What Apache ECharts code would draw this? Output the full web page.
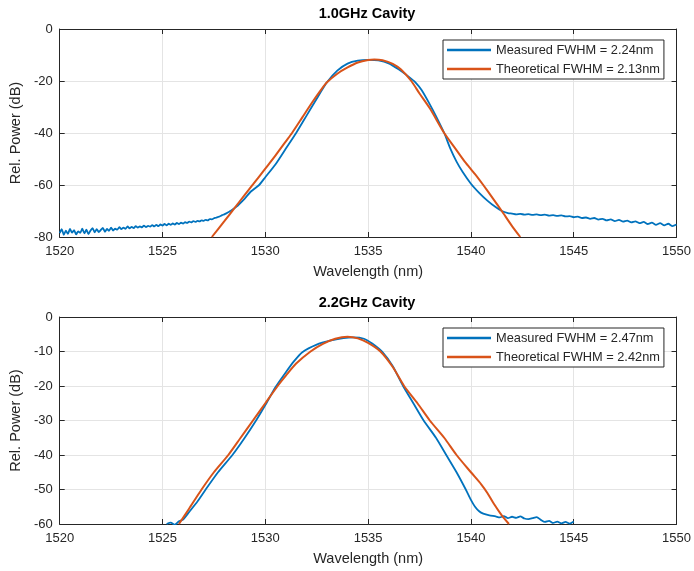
<!DOCTYPE html>
<html>
<head>
<meta charset="utf-8">
<script src="https://cdn.jsdelivr.net/npm/echarts@6/dist/echarts.min.js"></script>
<style>html,body{margin:0;padding:0;background:#fff;}#c{width:694px;height:571px;}</style>
</head>
<body>
<div id="c"></div>
<script>
// ---------- data (wavelength nm, relative power dB) ----------
const xTicks = [1520, 1525, 1530, 1535, 1540, 1545, 1550];
const yTicksTop = [-80, -60, -40, -20, 0];
const yTicksBottom = [-60, -50, -40, -30, -20, -10, 0];

const measured1 = [
[1520.0,-78.5],[1520.1,-77.0],[1520.2,-79.2],[1520.3,-77.6],[1520.4,-78.8],[1520.5,-76.9],[1520.6,-78.3],[1520.7,-77.4],[1520.8,-79.0],[1520.9,-77.8],
[1521.0,-78.4],[1521.1,-76.8],[1521.2,-78.6],[1521.3,-77.2],[1521.4,-78.9],[1521.5,-77.5],[1521.6,-76.6],[1521.7,-78.2],[1521.8,-77.0],[1521.9,-78.1],
[1522.0,-77.3],[1522.1,-76.5],[1522.2,-78.0],[1522.3,-76.9],[1522.4,-77.6],[1522.5,-76.4],[1522.6,-77.5],[1522.7,-76.8],[1522.8,-77.2],[1522.9,-76.2],
[1523.0,-77.0],[1523.1,-76.4],[1523.2,-76.9],[1523.3,-75.9],[1523.4,-76.7],[1523.5,-76.1],[1523.6,-76.6],[1523.7,-75.8],[1523.8,-76.4],[1523.9,-75.9],
[1524.0,-76.3],[1524.1,-75.6],[1524.2,-76.2],[1524.3,-75.7],[1524.4,-76.0],[1524.5,-75.4],[1524.6,-75.9],[1524.7,-75.3],[1524.8,-75.8],[1524.9,-75.2],
[1525.0,-75.6],[1525.1,-75.0],[1525.2,-75.5],[1525.3,-74.9],[1525.4,-75.3],[1525.5,-74.8],[1525.6,-75.2],[1525.7,-74.6],[1525.8,-75.0],[1525.9,-74.5],
[1526.0,-74.8],[1526.1,-74.3],[1526.2,-74.6],[1526.3,-74.1],[1526.4,-74.4],[1526.5,-73.9],[1526.6,-74.2],[1526.7,-73.8],[1526.8,-74.0],[1526.9,-73.6],
[1527.0,-73.8],[1527.1,-73.4],[1527.2,-73.6],[1527.3,-73.1],[1527.4,-73.2],[1527.5,-72.8],[1527.6,-72.6],[1527.7,-72.3],[1527.8,-72.0],[1527.9,-71.6],
[1528.0,-71.3],[1528.1,-70.9],[1528.2,-70.5],[1528.3,-70.0],[1528.4,-69.5],[1528.5,-68.9],[1528.6,-68.3],[1528.7,-67.6],
[1529.0,-65.2],[1529.3,-62.5],[1529.7,-60.0],[1530.0,-57.0],[1530.5,-52.0],[1531.0,-46.0],[1531.5,-40.0],[1532.0,-33.4],[1532.5,-26.8],
[1533.0,-20.5],[1533.5,-16.0],[1534.0,-13.3],[1534.5,-12.2],[1535.0,-11.9],[1535.5,-12.1],[1536.0,-13.2],[1536.5,-15.6],[1537.0,-18.5],
[1537.3,-20.5],[1537.6,-23.5],[1538.0,-29.0],[1538.3,-33.5],[1538.7,-40.0],[1539.0,-46.0],[1539.3,-51.0],[1539.6,-55.0],[1540.0,-59.5],
[1540.4,-63.0],[1540.8,-66.0],[1541.2,-68.5],[1541.5,-70.0],[1541.8,-70.8],
[1542.0,-71.0],[1542.2,-71.3],[1542.4,-71.1],[1542.6,-71.4],[1542.8,-71.2],[1543.0,-71.5],[1543.2,-71.3],[1543.4,-71.6],[1543.6,-71.4],[1543.8,-71.8],
[1544.0,-71.6],[1544.2,-71.9],[1544.4,-71.7],[1544.6,-72.1],[1544.8,-72.0],[1545.0,-72.4],[1545.2,-72.2],[1545.4,-72.7],[1545.6,-72.5],[1545.8,-73.0],
[1546.0,-72.7],[1546.2,-73.3],[1546.4,-73.0],[1546.6,-73.6],[1546.8,-73.2],[1547.0,-73.9],[1547.2,-73.4],[1547.4,-74.1],[1547.6,-73.7],[1547.8,-74.4],
[1548.0,-74.0],[1548.2,-74.7],[1548.4,-74.2],[1548.6,-75.0],[1548.8,-74.5],[1549.0,-75.3],[1549.2,-74.7],[1549.4,-75.5],[1549.6,-74.9],[1549.8,-75.8],[1550.0,-75.2]
];

const theory1 = [
[1527.4,-80],[1528.0,-74],[1528.5,-68.9],[1529.0,-63.8],[1529.4,-59.8],[1530.0,-53.7],[1530.5,-48.6],[1531.0,-43.2],[1531.3,-40],
[1531.8,-34],[1532.3,-28],[1532.7,-23.5],[1533.0,-20.5],[1533.5,-17.2],[1534.0,-14.8],[1534.5,-12.9],[1535.0,-11.9],[1535.3,-11.7],
[1535.7,-12.0],[1536.2,-13.4],[1536.6,-15.6],[1537.1,-20],[1537.5,-24.8],[1538.0,-30.5],[1538.7,-40],[1539.2,-45.5],[1539.7,-51],
[1540.2,-55.8],[1540.6,-60],[1541.1,-65.5],[1541.5,-70],[1542.0,-75.8],[1542.4,-80]
];

const measured2 = [
[1525.2,-60.0],[1525.4,-59.6],[1525.6,-60.2],[1525.8,-59.2],[1526.0,-58.7],[1526.3,-56.5],[1526.7,-53.5],[1527.1,-50.0],[1527.7,-45.0],
[1528.4,-40.0],[1529.0,-35.0],[1529.55,-30.0],[1530.0,-25.5],[1530.5,-20.3],[1531.0,-16.0],[1531.4,-12.8],[1531.8,-10.2],[1532.5,-8.0],
[1533.2,-6.8],[1533.8,-6.1],[1534.3,-5.9],[1534.8,-6.3],[1535.2,-7.7],[1535.7,-10.2],[1536.2,-14.3],[1536.7,-20.0],[1537.2,-25.0],
[1537.7,-30.0],[1538.3,-35.0],[1538.8,-40.0],[1539.3,-45.0],[1539.75,-50.0],[1540.0,-53.0],[1540.2,-55.0],[1540.4,-56.3],[1540.6,-57.0],
[1540.9,-57.5],[1541.2,-57.8],[1541.4,-58.1],[1541.6,-57.7],[1541.8,-58.3],[1542.0,-57.9],[1542.2,-58.2],[1542.4,-57.8],[1542.6,-58.4],
[1542.8,-58.6],[1543.0,-58.3],[1543.2,-58.0],[1543.4,-58.8],[1543.6,-59.4],[1543.8,-59.1],[1544.0,-59.7],[1544.2,-59.3],[1544.4,-59.8],
[1544.6,-59.4],[1544.8,-59.9],[1545.0,-59.3]
];

const theory2 = [
[1525.8,-60],[1526.3,-55.5],[1526.9,-50],[1527.5,-45],[1528.2,-40],[1528.8,-35],[1529.4,-30],[1530.0,-25],[1530.6,-20],[1531.0,-17],
[1531.5,-13.5],[1532.2,-10],[1532.8,-7.8],[1533.4,-6.3],[1534.0,-5.7],[1534.5,-6.2],[1535.0,-7.5],[1535.6,-10],[1536.2,-14.5],
[1536.75,-20],[1537.4,-25],[1538.0,-30],[1538.7,-35],[1539.3,-40],[1540.0,-45],[1540.5,-48.5],[1540.8,-51],[1541.1,-54],[1541.5,-57.5],[1541.85,-60]
];

const titles = ['1.0GHz Cavity', '2.2GHz Cavity'];
const names1 = ['Measured FWHM = 2.24nm', 'Theoretical FWHM = 2.13nm'];
const names2 = ['Measured FWHM = 2.47nm', 'Theoretical FWHM = 2.42nm'];

// ---------- styling ----------
const FONT = 'Liberation Sans, Arial, Helvetica, sans-serif';
const AX = '#262626';
const BLUE = '#0072BD';
const ORANGE = '#D95319';
const GRIDC = '#e4e4e4';

function mainX(gi) {
  return {
    gridIndex: gi, type: 'value', position: 'bottom',
    min: xTicks[0], max: xTicks[xTicks.length - 1], interval: 5,
    axisLine: { show: true, onZero: false, lineStyle: { color: AX, width: 1 } },
    axisTick: { show: true, inside: true, length: 5, lineStyle: { color: AX } },
    axisLabel: { margin: 8, fontSize: 13, color: AX, fontFamily: FONT, formatter: v => String(v) },
    splitLine: { show: true, lineStyle: { color: GRIDC, width: 1 } },
    name: 'Wavelength (nm)', nameLocation: 'middle', nameGap: 27,
    nameTextStyle: { fontSize: 14.5, color: AX, fontFamily: FONT }
  };
}
function topX(gi) {
  return {
    gridIndex: gi, type: 'value', position: 'top',
    min: xTicks[0], max: xTicks[xTicks.length - 1], interval: 5,
    axisLine: { show: true, onZero: false, lineStyle: { color: AX, width: 1 } },
    axisTick: { show: true, inside: true, length: 5, lineStyle: { color: AX } },
    axisLabel: { show: false }, splitLine: { show: false }
  };
}
function mainY(gi, ticks) {
  return {
    gridIndex: gi, type: 'value', position: 'left',
    min: ticks[0], max: ticks[ticks.length - 1], interval: ticks[1] - ticks[0],
    axisLine: { show: true, onZero: false, lineStyle: { color: AX, width: 1 } },
    axisTick: { show: true, inside: true, length: 5, lineStyle: { color: AX } },
    axisLabel: { margin: 7, fontSize: 13, color: AX, fontFamily: FONT, formatter: v => String(v) },
    splitLine: { show: true, lineStyle: { color: GRIDC, width: 1 } },
    name: 'Rel. Power (dB)', nameLocation: 'middle', nameGap: 30, nameRotate: 90,
    nameTextStyle: { fontSize: 14.5, color: AX, fontFamily: FONT }
  };
}
function rightY(gi, ticks) {
  return {
    gridIndex: gi, type: 'value', position: 'right',
    min: ticks[0], max: ticks[ticks.length - 1], interval: ticks[1] - ticks[0],
    axisLine: { show: true, onZero: false, lineStyle: { color: AX, width: 1 } },
    axisTick: { show: true, inside: true, length: 5, lineStyle: { color: AX } },
    axisLabel: { show: false }, splitLine: { show: false }
  };
}
function legendAt(top, names) {
  return {
    data: names, orient: 'vertical', left: 443, top: top,
    icon: 'rect', itemWidth: 44, itemHeight: 2.5, itemGap: 5,
    padding: [3, 4, 3, 4], borderColor: AX, borderWidth: 1, backgroundColor: '#fff',
    textStyle: { fontSize: 12.8, color: AX, fontFamily: FONT, lineHeight: 14 },
    selectedMode: false
  };
}
function lineSeries(name, data, color, xi, yi, w, sm) {
  return {
    name: name, type: 'line', data: data, xAxisIndex: xi, yAxisIndex: yi,
    symbol: 'none', showSymbol: false, clip: true, animation: false,
    smooth: sm,
    lineStyle: { color: color, width: w }, itemStyle: { color: color }, z: 3
  };
}

const option = {
  animation: false,
  backgroundColor: '#fff',
  title: [
    { text: titles[0], left: 362, top: 1, textAlign: 'center',
      textStyle: { fontSize: 14.5, fontWeight: 'bold', color: '#000', fontFamily: FONT } },
    { text: titles[1], left: 362, top: 290, textAlign: 'center',
      textStyle: { fontSize: 14.5, fontWeight: 'bold', color: '#000', fontFamily: FONT } }
  ],
  grid: [
    { left: 57, top: 29, width: 620, height: 208 },
    { left: 57, top: 317, width: 620, height: 207 }
  ],
  xAxis: [mainX(0), topX(0), mainX(1), topX(1)],
  yAxis: [mainY(0, yTicksTop), rightY(0, yTicksTop), mainY(1, yTicksBottom), rightY(1, yTicksBottom)],
  legend: [legendAt(40, names1), legendAt(328, names2)],
  series: [
    lineSeries(names1[0], measured1, BLUE, 0, 0, 1.8, 0.2),
    lineSeries(names1[1], theory1, ORANGE, 0, 0, 2, 0.25),
    lineSeries(names2[0], measured2, BLUE, 2, 2, 1.8, 0.2),
    lineSeries(names2[1], theory2, ORANGE, 2, 2, 2, 0.25)
  ]
};

const chart = echarts.init(document.getElementById('c'), null, { renderer: 'canvas' });
chart.setOption(option);
</script>
</body>
</html>
